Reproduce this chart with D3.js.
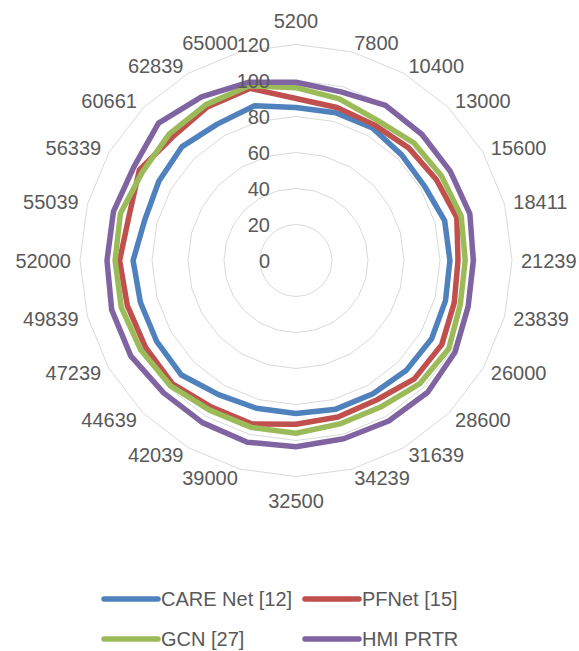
<!DOCTYPE html>
<html>
<head>
<meta charset="utf-8">
<script src="https://cdn.jsdelivr.net/npm/d3@7/dist/d3.min.js"></script>
<style>
  body { margin: 0; background: #ffffff; }
  text { font-family: "Liberation Sans", Arial, sans-serif; fill: #595959; }
</style>
</head>
<body>
<svg id="chart" width="579" height="651"></svg>
<script>
// Categories around the radar, clockwise from the top
const categories = ["5200", "7800", "10400", "13000", "15600", "18411", "21239", "23839",
  "26000", "28600", "31639", "34239", "32500", "39000", "42039", "44639",
  "47239", "49839", "52000", "55039", "56339", "60661", "62839", "65000"];

const seriesNames = ["CARE Net [12]", "PFNet [15]", "GCN [27]", "HMI PRTR"];

const careNet = [85, 85, 85, 83, 82.5, 85.5, 85.5, 86, 87, 86.5, 85.5, 85.5,
  85, 85, 86, 90, 89.5, 89.5, 90.5, 87, 88, 89.5, 87.5, 89];
const pfNet = [90, 88, 87, 88.5, 90, 92.5, 90, 91, 93.5, 93, 89.5, 90,
  91, 94, 94, 97, 96.5, 97, 98, 96, 100.5, 97, 98.5, 99];
const gcn = [96, 93, 90, 92.5, 93.5, 95, 94, 94.5, 98, 97, 94, 94,
  96, 96, 96, 98.5, 99.5, 100.5, 100.5, 101, 98.5, 99.5, 100, 100.5];
const hmiPrtr = [99, 97, 99.5, 99, 99, 100, 98.5, 99, 102, 103.5, 103, 102.5,
  103.5, 104.5, 104, 104, 106, 106, 105, 105, 104, 108, 105, 102.5];

const radialTicks = [0, 20, 40, 60, 80, 100, 120];
const seriesColors = ["#4F81BD", "#C0504D", "#9BBB59", "#8064A2"];

const allSeries = [careNet, pfNet, gcn, hmiPrtr];

const svg = d3.select("#chart");
const cx = 296, cy = 260.5, outer = 216;

const r = d3.scaleLinear().domain([0, 120]).range([0, outer]);
const angle = d3.scaleLinear().domain([0, categories.length]).range([0, 2 * Math.PI]);

const g = svg.append("g").attr("transform", `translate(${cx},${cy})`);

// Concentric 24-sided gridlines
const ring = d3.lineRadial()
  .angle((d, i) => angle(i))
  .radius(d => r(d))
  .curve(d3.curveLinearClosed);

g.append("g").selectAll("path")
  .data(radialTicks.filter(t => t > 0))
  .join("path")
  .attr("d", t => ring(categories.map(() => t)))
  .attr("fill", "none")
  .attr("stroke", "#d9d9d9")
  .attr("stroke-width", 1);

// Series outlines
const seriesLine = d3.lineRadial()
  .angle((d, i) => angle(i))
  .radius(d => r(d))
  .curve(d3.curveLinearClosed);

g.append("g").selectAll("path")
  .data(allSeries)
  .join("path")
  .attr("d", d => seriesLine(d))
  .attr("fill", "none")
  .attr("stroke", (d, i) => seriesColors[i])
  .attr("stroke-width", 5.5)
  .attr("stroke-linejoin", "round");

// Value labels along the vertical axis
g.append("g").selectAll("text")
  .data(radialTicks)
  .join("text")
  .attr("x", -26)
  .attr("y", t => -r(t))
  .attr("dy", "0.35em")
  .attr("text-anchor", "end")
  .attr("font-size", 20)
  .text(t => t);

// Category labels around the outside
g.append("g").selectAll("text")
  .data(categories)
  .join("text")
  .each(function (c, i) {
    const a = angle(i);
    const s = Math.sin(a), co = Math.cos(a);
    const el = d3.select(this);
    if (Math.abs(s) < 0.01) {
      const rr = outer + 24;
      el.attr("x", 0).attr("y", -co * rr).attr("text-anchor", "middle");
    } else {
      const rr = outer + 9;
      el.attr("x", s * rr).attr("y", -co * rr)
        .attr("text-anchor", s > 0 ? "start" : "end");
    }
  })
  .attr("dy", "0.35em")
  .attr("font-size", 20)
  .text(c => c);

// Legend, two rows of two entries
const legendItems = seriesNames.map((name, i) => ({ name, color: seriesColors[i], col: i % 2, row: Math.floor(i / 2) }));
const legend = svg.append("g");
const colX = [104, 305], rowY = [599, 639];

const item = legend.selectAll("g")
  .data(legendItems)
  .join("g")
  .attr("transform", d => `translate(${colX[d.col]},${rowY[d.row]})`);

item.append("line")
  .attr("x1", 0).attr("x2", 54)
  .attr("y1", 0).attr("y2", 0)
  .attr("stroke", d => d.color)
  .attr("stroke-width", 5.5)
  .attr("stroke-linecap", "round");

item.append("text")
  .attr("x", 57)
  .attr("y", 0)
  .attr("dy", "0.35em")
  .attr("font-size", 20)
  .text(d => d.name);
</script>
</body>
</html>
